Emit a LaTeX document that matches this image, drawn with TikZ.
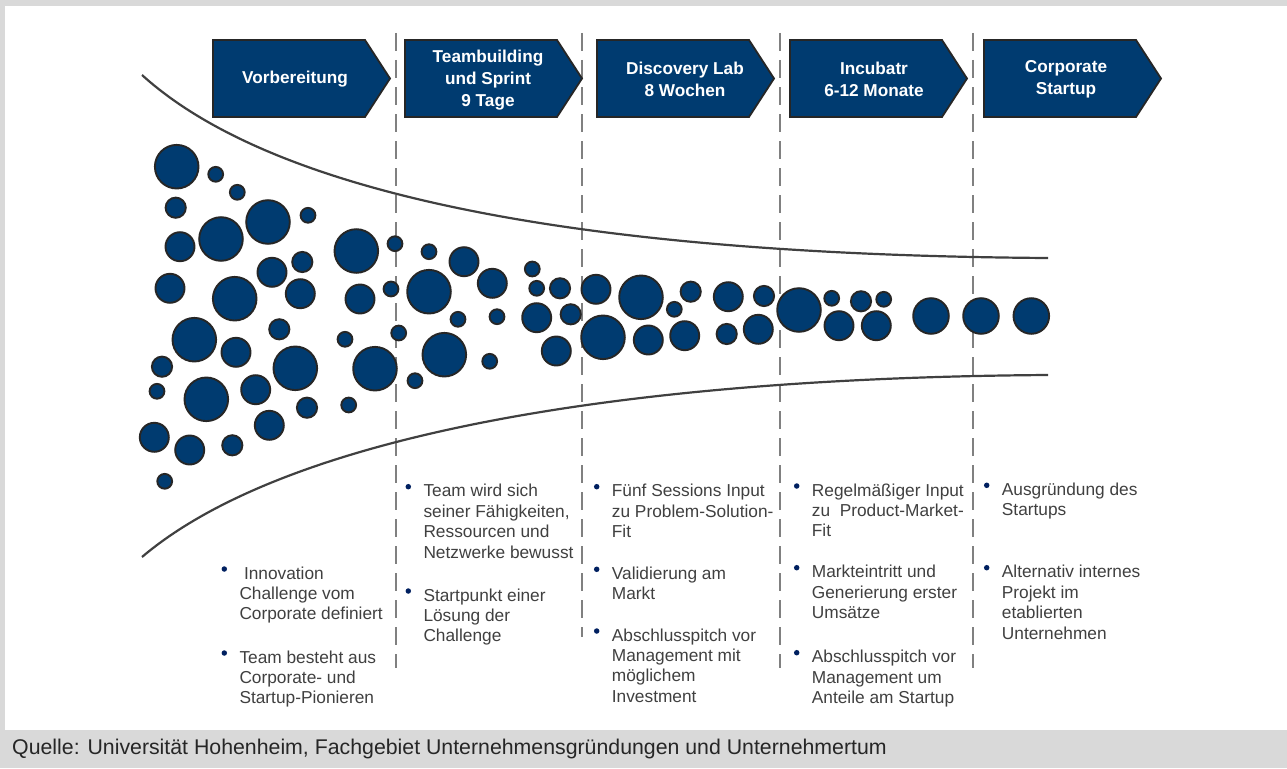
\documentclass[tikz,border=0pt]{standalone}
\usepackage{fontspec}
\setmainfont{Liberation Sans}
\usetikzlibrary{calc}
\definecolor{navy}{RGB}{0,59,112}
\definecolor{outl}{RGB}{38,38,38}
\definecolor{bandgray}{RGB}{217,217,217}
\definecolor{dashgray}{RGB}{128,128,128}
\definecolor{txtgray}{RGB}{64,64,64}
\definecolor{curvegray}{RGB}{64,64,64}
\definecolor{bulletblue}{RGB}{0,32,96}
\newcommand\bodyfont{\fontsize{17.3}{20.4}\selectfont}
\newcommand\headfont{\fontsize{17.2}{22}\selectfont\bfseries}
\newcommand\footfont{\fontsize{21.3}{24}\selectfont}
\begin{document}
\begin{tikzpicture}[x=1pt,y=-1pt,
  phase/.style={fill=navy,draw=outl,line width=1.8pt,line join=miter},
  phasetext/.style={text=white,font=\headfont,align=center,inner sep=0pt},
  bubble/.style={fill=navy,draw=outl,line width=1.9pt},
  divider/.style={draw=dashgray,line width=2pt,dash pattern=on 18pt off 9pt},
  funnel/.style={draw=curvegray,line width=2.2pt},
  txt/.style={anchor=north west,inner sep=0pt,align=left,font=\bodyfont,text=txtgray},
  bul/.style={circle,fill=bulletblue,inner sep=0pt,minimum size=5.5pt},
]
% background and frame
\fill[white] (0,0) rectangle (1287,768);
\fill[bandgray] (0,0) rectangle (1287,6);
\fill[bandgray] (0,0) rectangle (5,768);
\fill[bandgray] (0,730) rectangle (1287,768);
\useasboundingbox (0,0) rectangle (1287,768);

% dashed dividers
\draw[divider] (396,33) -- (396,668);
\draw[divider] (582,33) -- (582,637);
\draw[divider] (780,33) -- (780,668);
\draw[divider] (973,33) -- (973,668);

% funnel
\draw[funnel] (142,75) .. controls (280,200) and (600,255) .. (1048,258);
\draw[funnel] (142,557) .. controls (280,440) and (600,378) .. (1048,375);

% phase arrows
\foreach \L in {213,405,597,790,984}
  \draw[phase] (\L,40) -- ++(152,0) -- ++(25,38.5) -- ++(-25,38.5) -- ++(-152,0) -- cycle;
\node[phasetext] (p1) at (295,79) {Vorbereitung};
\node[phasetext] (p2) at (488,80) {Teambuilding\\und Sprint\\9 Tage};
\node[phasetext] (p3) at (685,79) {Discovery Lab\\8 Wochen};
\node[phasetext] (p4) at (874,79) {Incubatr\\6-12 Monate};
\node[phasetext] (p5) at (1066,79) {Corporate\\Startup};

% bubbles
\foreach \x/\y/\r in {
 176.7/166.7/21.8, 215.7/174.3/7.4, 237.3/192.3/7.4, 175.7/207.7/10.1,
 268/222/21.8, 308/215.3/7.4, 180/246.7/14.5, 221/239/21.8,
 170/288.3/14.5, 234.7/298.7/21.8, 272/272.3/14.5, 302.3/262/10.1,
 300.3/293.7/14.5, 356.3/251/21.8, 395/243.7/7.4, 360/299/14.5,
 391/289/7.4, 194.3/339.7/21.8, 236/352.3/14.5, 279.3/329.3/10.1,
 295.3/368.3/21.8, 345/339.3/7.4, 398.7/333/7.4, 375/368.7/21.8,
 162/366.7/10.1, 157/391.3/7.4, 206.3/399.3/21.8, 255.7/389.7/14.5,
 307/407.7/10.1, 348.7/405/7.4, 415/380.7/7.4, 269.3/425.3/14.5,
 154.3/437.3/14.5, 189.7/450/14.5, 232.3/445.3/10.1, 164.7/481.3/7.4,
 429/251.7/7.4, 464/261.7/14.5, 429/291.7/21.8, 492.3/283.3/14.5,
 458/319.3/7.4, 497/316.7/7.4, 444.3/354.7/21.8, 489.7/361.3/7.4,
 532.3/269/7.4, 536.7/288.3/7.4, 560/288.3/10.1, 536.7/317.7/14.5,
 570.7/314.3/10.1, 556.3/351/14.5, 596/289.3/14.5, 641/297.3/21.8,
 690.7/291.7/10.1, 674.3/309.3/7.4, 603/337.3/21.8, 648.3/340/14.5,
 684.7/335.7/14.5, 728.3/296.7/14.5, 764/296/10.1, 726.7/334/10.1,
 758.3/329.3/14.5, 799/310/21.8, 831.7/298.3/7.4, 861/301.3/10.1,
 883.7/299.3/7.4, 839/325.7/14.5, 876.3/325.7/14.5,
 931/316/17.8, 981/316/17.8, 1031.3/316/17.8}
  \draw[bubble] (\x,\y) circle[radius=\r pt];

% bullet texts
\node[txt] (t1a) at (239.3,564.7) {\strut\hspace{4.5pt}Innovation\\Challenge vom\\Corporate definiert};
\node[txt] (t1b) at (239.3,648.7) {\strut Team besteht aus\\Corporate- und\\Startup-Pionieren};
\node[txt] (t2a) at (423.3,482.4) {\strut Team wird sich\\seiner Fähigkeiten,\\Ressourcen und\\Netzwerke bewusst};
\node[txt] (t2b) at (423.3,586.7) {\strut Startpunkt einer\\Lösung der\\Challenge};
\node[txt] (t3a) at (611.7,482.4) {\strut Fünf Sessions Input\\zu Problem-Solution-\\Fit};
\node[txt] (t3b) at (611.7,565) {\strut Validierung am\\Markt};
\node[txt] (t3c) at (611.7,626.7) {\strut Abschlusspitch vor\\Management mit\\möglichem\\Investment};
\node[txt] (t4a) at (811.7,481.7) {\strut Regelmäßiger Input\\zu\ \ Product-Market-\\Fit};
\node[txt] (t4b) at (811.7,563.4) {\strut Markteintritt und\\Generierung erster\\Umsätze};
\node[txt] (t4c) at (811.7,648.4) {\strut Abschlusspitch vor\\Management um\\Anteile am Startup};
\node[txt] (t5a) at (1001.7,481) {\strut Ausgründung des\\Startups};
\node[txt] (t5b) at (1001.7,563.4) {\strut Alternativ internes\\Projekt im\\etablierten\\Unternehmen};

\foreach \t in {t1a,t1b,t2a,t2b,t3a,t3b,t3c,t4a,t4b,t4c,t5a,t5b}
  \node[bul] (b\t) at ($(\t.north west)+(-15,4.3)$) {};

% source line
\node[anchor=west,inner sep=0pt,font=\footfont,text=black!85] (src) at (12,749)
  {Quelle: Universität Hohenheim, Fachgebiet Unternehmensgründungen und Unternehmertum};
\end{tikzpicture}
\end{document}
